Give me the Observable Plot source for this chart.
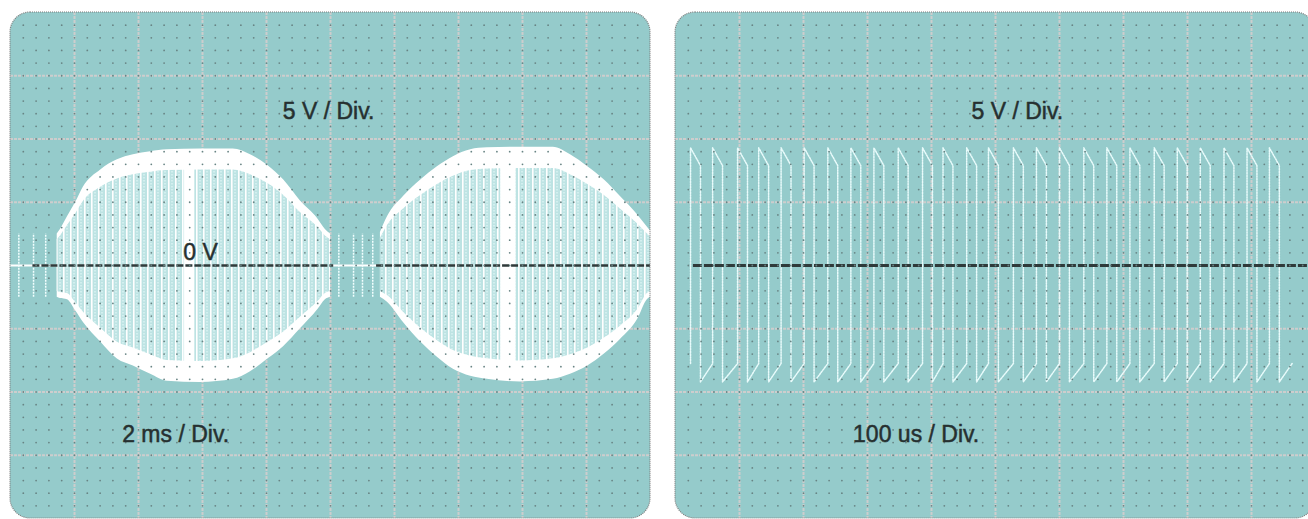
<!DOCTYPE html>
<html><head><meta charset="utf-8">
<script src="https://cdn.jsdelivr.net/npm/d3@7"></script>
<script src="https://cdn.jsdelivr.net/npm/@observablehq/plot@0.6"></script>
<style>
html,body{margin:0;padding:0;background:#fff;overflow:hidden;width:1308px;height:519px;position:relative}
#left{position:absolute;left:0;top:0;width:660px;height:519px}
#right{position:absolute;left:665px;top:0;width:660px;height:519px}
svg{max-width:none!important;display:block}
</style></head><body>
<div id="left"></div><div id="right"></div>
<script>
// ---- Screen graticule: 10 × 8 divisions, 5 minor dots per division ----
const xDivisions = [1, 2, 3, 4, 5, 6, 7, 8, 9];
const yDivisions = [-3, -2, -1, 1, 2, 3];
const minorX = d3.range(1, 50).map(i => i / 5);
const minorY = d3.range(-19, 20).map(i => i / 5);

// ---- Left screen (5 V/div, 2 ms/div): burst envelopes, in divisions ----
const burst1X      = [0.73, 0.78, 0.89, 1.02, 1.14, 1.41, 1.67, 1.92, 2.19, 2.45, 2.97, 3.48, 3.75, 4.02, 4.27, 4.53, 4.80, 4.92, 5.00];
const burst1Top    = [0.50, 0.57, 0.77, 1.00, 1.24, 1.51, 1.67, 1.75, 1.80, 1.83, 1.84, 1.84, 1.75, 1.58, 1.35, 1.02, 0.74, 0.57, 0.50];
const burst1Bottom = [-0.50, -0.52, -0.54, -0.72, -0.90, -1.21, -1.48, -1.59, -1.72, -1.83, -1.85, -1.80, -1.68, -1.48, -1.28, -1.00, -0.70, -0.54, -0.50];
const burst2X      = [5.78, 5.89, 6.14, 6.41, 6.67, 6.92, 7.19, 7.45, 7.97, 8.48, 8.75, 9.02, 9.28, 9.53, 9.80, 9.95, 10.0];
const burst2Top    = [0.52, 0.77, 1.09, 1.35, 1.56, 1.72, 1.83, 1.86, 1.87, 1.87, 1.75, 1.56, 1.35, 1.09, 0.80, 0.61, 0.55];
const burst2Bottom = [-0.50, -0.58, -0.90, -1.21, -1.45, -1.64, -1.75, -1.80, -1.84, -1.80, -1.72, -1.59, -1.40, -1.17, -0.85, -0.54, -0.50];
const burstCoreX1 = [2.72, 7.66];
const burstCoreX2 = [2.88, 7.90];
const burstCoreAmp = [1.55, 1.60];
const idleSpikeX = [0.13, 0.36, 0.55, 5.13, 5.36, 5.50, 5.66];
const idleSpikeAmp = 0.5;
const leftBaseX1 = [0.35, 5.72];
const leftBaseX2 = [5.05, 10.0];

// ---- Right screen (5 V/div, 100 us/div): square wave with overshoot ----
const edgeX = [0.235, 0.58, 0.97, 1.30, 1.65, 2.01, 2.38, 2.74, 3.10, 3.48, 3.86, 4.18, 4.55,
               4.89, 5.28, 5.64, 6.00, 6.38, 6.74, 7.10, 7.48, 7.84, 8.20, 8.57, 8.93, 9.28];
const peakHigh = 1.86, settleHigh = 1.58, peakLow = -1.84, settleLow = -1.55;
const highWidth = 0.155, lastLowWidth = 0.2;
const rightBaseStart = 0.28;

// ---- Labels ----
const leftLabelText = ["5 V / Div.", "0 V", "2 ms / Div."];
const leftLabelX = [4.97, 2.97, 2.58];
const leftLabelY = [2.44, 0.20, -2.67];
const rightLabelText = ["5 V / Div.", "100 us / Div."];
const rightLabelX = [5.34, 3.76];
const rightLabelY = [2.44, -2.67];

// ---- tables built from the arrays ----
const minorGrid = minorX.flatMap(x => minorY.map(y => ({x, y})));
const burst1 = burst1X.map((x, i) => ({x, top: burst1Top[i], bottom: burst1Bottom[i]}));
const burst2 = burst2X.map((x, i) => ({x, top: burst2Top[i], bottom: burst2Bottom[i]}));
const cores = burstCoreX1.map((x1, i) => ({x1, x2: burstCoreX2[i], a: burstCoreAmp[i]}));
const leftBase = leftBaseX1.map((x1, i) => ({x1, x2: leftBaseX2[i]}));
const trace = [];
edgeX.forEach(t => {
  trace.push({t, v: settleLow}, {t, v: peakHigh}, {t: t + highWidth, v: settleHigh}, {t: t + highWidth, v: peakLow});
});
trace.push({t: edgeX[edgeX.length - 1] + highWidth + lastLowWidth, v: settleLow});
const leftLabels = leftLabelText.map((text, i) => ({text, x: leftLabelX[i], y: leftLabelY[i]}));
const rightLabels = rightLabelText.map((text, i) => ({text, x: rightLabelX[i], y: rightLabelY[i]}));

const TEAL = "#95cbcb";
const FONT = "Liberation Sans, Arial, Helvetica, sans-serif";

function screenMarks() {
  return [
    Plot.rect([0], {x1: 0, x2: 10, y1: -4, y2: 4, rx: 20, fill: TEAL}),
    Plot.ruleX(xDivisions, {stroke: "#cdcdcd", strokeWidth: 2, strokeDasharray: "3,1"}),
    Plot.ruleY(yDivisions, {stroke: "#cdcdcd", strokeWidth: 2, strokeDasharray: "3,1"})
  ];
}
function overlayMarks(labels) {
  return [
    Plot.dot(minorGrid, {x: "x", y: "y", r: 0.9, fill: "#688484", stroke: null}),
    Plot.rect([0], {x1: 0, x2: 10, y1: -4, y2: 4, rx: 20, fill: "none", stroke: "#7d7d7d", strokeWidth: 1.2, strokeDasharray: "1,1"}),
    Plot.text(labels, {x: "x", y: "y", text: "text", fontSize: 23, fontFamily: FONT, fill: "#263030",
      stroke: "#263030", strokeWidth: 0.5, textAnchor: "middle"})
  ];
}
const common = {
  width: 660, height: 519, marginLeft: 10, marginRight: 10, marginTop: 12, marginBottom: 1,
  x: {domain: [0, 10], axis: null}, y: {domain: [-4, 4], axis: null},
  style: {background: "transparent", overflow: "visible", maxWidth: "none"}
};

const left = Plot.plot({
  ...common,
  marks: [
    ...screenMarks(),
    Plot.ruleY([0], {stroke: "#ffffff", strokeWidth: 2}),
    Plot.ruleX(idleSpikeX, {y1: -idleSpikeAmp, y2: idleSpikeAmp, stroke: "#f2ffff", strokeWidth: 1.5, strokeDasharray: "2,1"}),
    Plot.area(burst1, {x1: "x", y1: "bottom", y2: "top", fill: "#ffffff", curve: "monotone-x"}),
    Plot.area(burst2, {x1: "x", y1: "bottom", y2: "top", fill: "#ffffff", curve: "monotone-x"}),
    Plot.area(burst1, {x1: "x", y1: d => d.bottom * 0.82, y2: d => d.top * 0.82, fill: "url(#burstStripes)", curve: "monotone-x"}),
    Plot.area(burst2, {x1: "x", y1: d => d.bottom * 0.82, y2: d => d.top * 0.82, fill: "url(#burstStripes)", curve: "monotone-x"}),
    Plot.rect(cores, {x1: "x1", x2: "x2", y1: d => -d.a, y2: "a", fill: "#ffffff"}),
    Plot.ruleY(leftBase, {x1: "x1", x2: "x2", y: 0, stroke: "#2f3a3a", strokeWidth: 2.5, strokeDasharray: "7,2"}),
    ...overlayMarks(leftLabels)
  ]
});
const right = Plot.plot({
  ...common,
  marks: [
    ...screenMarks(),
    Plot.line(trace, {x: "t", y: "v", stroke: "#e8fbfb", strokeWidth: 1.5, strokeDasharray: "1.5,1.2", curve: "linear"}),
    Plot.ruleY([0], {x1: rightBaseStart, x2: 10, stroke: "#2f3a3a", strokeWidth: 3, strokeDasharray: "9,2"}),
    ...overlayMarks(rightLabels)
  ]
});

// stripe pattern for the burst interiors
const defs = d3.select(left).insert("defs", ":first-child");
const pat = defs.append("pattern").attr("id", "burstStripes").attr("patternUnits", "userSpaceOnUse")
  .attr("width", 7).attr("height", 3);
pat.append("rect").attr("width", 7).attr("height", 3).attr("fill", "#bde3e3");
pat.append("rect").attr("x", 0).attr("width", 1.6).attr("height", 3).attr("fill", "#ffffff");
pat.append("rect").attr("x", 3.5).attr("width", 1).attr("height", 1.5).attr("fill", "#e9fcfc");

document.getElementById("left").appendChild(left);
document.getElementById("right").appendChild(right);
</script>
</body></html>
